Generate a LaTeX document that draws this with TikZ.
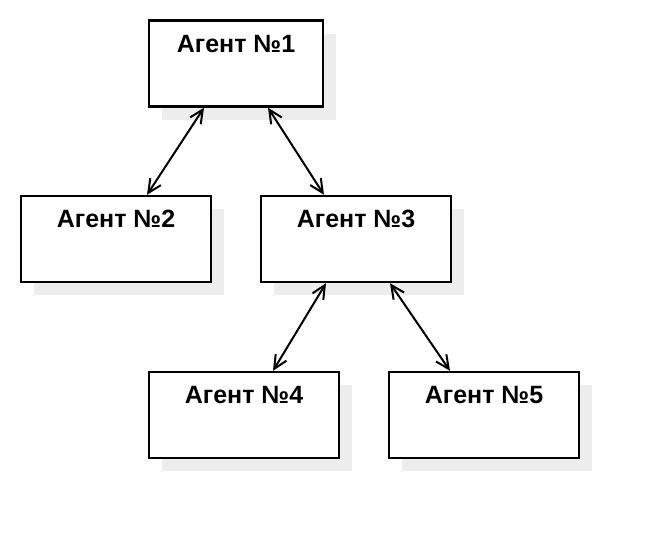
\documentclass[tikz,border=0pt]{standalone}
\usepackage{fontspec}
\setmainfont{Liberation Sans}
\usetikzlibrary{arrows.meta,shadows,calc}
\tikzset{
  agent/.style={draw=black, line width=1.8pt, fill=white, rectangle,
    minimum width=142.5pt, minimum height=64.5pt, inner sep=0pt,
    general shadow={fill=black!7, shadow xshift=9.75pt, shadow yshift=-9.75pt}},
  title/.style={font=\bfseries\fontsize{18.75pt}{22pt}\selectfont, anchor=base, inner sep=0pt},
  link/.style={line width=1.5pt, {Straight Barb[length=10pt,width=9.5pt]}-{Straight Barb[length=10pt,width=9.5pt]}}
}
\begin{document}
\begin{tikzpicture}[x=0.75pt,y=-0.75pt]
\useasboundingbox[fill=white] (0,0) rectangle (660,540);
\node[agent, minimum width=130.5pt] (a1) at (236,63.5) {};
\node[agent] (a2) at (116,239) {};
\node[agent] (a3) at (356,239) {};
\node[agent] (a4) at (244,415) {};
\node[agent] (a5) at (484,415) {};
\node[title] (t1) at ([yshift=-24.75pt]a1.north) {Агент №1};
\node[title] (t2) at ([yshift=-24.75pt]a2.north) {Агент №2};
\node[title] (t3) at ([yshift=-24.75pt]a3.north) {Агент №3};
\node[title] (t4) at ([yshift=-24.75pt]a4.north) {Агент №4};
\node[title] (t5) at ([yshift=-24.75pt]a5.north) {Агент №5};
\draw[link] ([xshift=-24pt]a1.south) -- ([xshift=23.25pt]a2.north);
\draw[link] ([xshift=24pt]a1.south) -- ([xshift=-24pt]a3.north);
\draw[link] ([xshift=-22.5pt]a3.south) -- ([xshift=21.75pt]a4.north);
\draw[link] ([xshift=25.5pt]a3.south) -- ([xshift=-25.5pt]a5.north);
\end{tikzpicture}
\end{document}
